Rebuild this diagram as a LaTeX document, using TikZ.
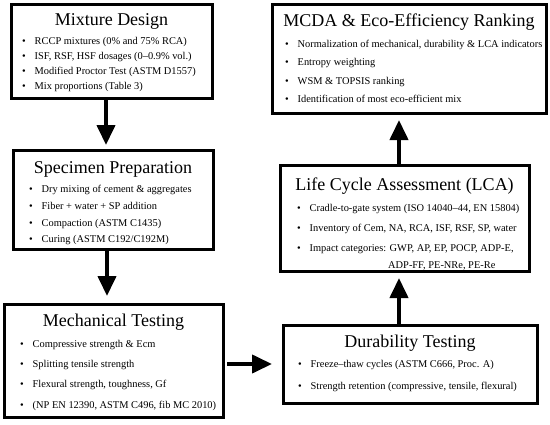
\documentclass[tikz,border=0pt]{standalone}
\usepackage{fontspec}
\setmainfont{Liberation Serif}
\usetikzlibrary{arrows.meta,calc}
\tikzset{
  box/.style={draw=black, line width=3pt, fill=white, inner sep=0pt, outer sep=0pt},
  ttl/.style={anchor=base, inner sep=0pt, font=\fontsize{18}{20}\selectfont},
  itm/.style={anchor=base west, inner sep=0pt, font=\fontsize{10.4}{12}\selectfont},
  arr/.style={line width=4pt, -{Triangle[length=20pt,width=18pt]}}
}
\newcommand{\bl}{\makebox[12.5pt][l]{\textbullet}}
\begin{document}
\begin{tikzpicture}[x=1pt,y=-1pt]
\useasboundingbox (0,0) rectangle (550,424);
% boxes
\node[box, minimum width=201pt, minimum height=94pt] (md) at (111.5,51) {};
\node[box, minimum width=200pt, minimum height=99pt] (sp) at (113,199.5) {};
\node[box, minimum width=219pt, minimum height=113pt] (mt) at (113.5,360.5) {};
\node[box, minimum width=254pt, minimum height=78pt] (dt) at (410,364) {};
\node[box, minimum width=249pt, minimum height=106pt] (lca) at (404.5,218) {};
\node[box, minimum width=274pt, minimum height=109pt] (mc) at (409,58.5) {};
% Mixture Design
\node[ttl] (mdt) at (111.5,25) {Mixture Design};
\node[itm] (md1) at (22,44) {\bl RCCP mixtures (0\% and 75\% RCA)};
\node[itm] (md2) at (22,59) {\bl ISF, RSF, HSF dosages (0–0.9\% vol.)};
\node[itm] (md3) at (22,74) {\bl Modified Proctor Test (ASTM D1557)};
\node[itm] (md4) at (22,89.5) {\bl Mix proportions (Table 3)};
% Specimen Preparation
\node[ttl] (spt) at (113,173) {Specimen Preparation};
\node[itm] (sp1) at (29,192) {\bl Dry mixing of cement \& aggregates};
\node[itm] (sp2) at (29,209) {\bl Fiber + water + SP addition};
\node[itm] (sp3) at (29,226) {\bl Compaction (ASTM C1435)};
\node[itm] (sp4) at (29,242) {\bl Curing (ASTM C192/C192M)};
% Mechanical Testing
\node[ttl] (mtt) at (113.5,326) {Mechanical Testing};
\node[itm] (mt1) at (20,347) {\bl Compressive strength \& Ecm};
\node[itm] (mt2) at (20,367) {\bl Splitting tensile strength};
\node[itm] (mt3) at (20,387) {\bl Flexural strength, toughness, Gf};
\node[itm] (mt4) at (20,408) {\bl (NP EN 12390, ASTM C496, fib MC 2010)};
% Durability Testing
\node[ttl] (dtt) at (410,347) {Durability Testing};
\node[itm] (dt1) at (298,367) {\bl Freeze–thaw cycles (ASTM C666, Proc. A)};
\node[itm] (dt2) at (298,389) {\bl Strength retention (compressive, tensile, flexural)};
% LCA
\node[ttl] (lcat) at (404.5,190) {Life Cycle Assessment (LCA)};
\node[itm] (lc1) at (297,211) {\bl Cradle-to-gate system (ISO 14040–44, EN 15804)};
\node[itm] (lc2) at (297,231) {\bl Inventory of Cem, NA, RCA, ISF, RSF, SP, water};
\node[itm] (lc3) at (297,251) {\bl Impact categories: GWP, AP, EP, POCP, ADP-E,};
\node[itm] (lc4) at (388,268) {ADP-FF, PE-NRe, PE-Re};
% MCDA
\node[ttl] (mct) at (409,26) {MCDA \& Eco-Efficiency Ranking};
\node[itm] (mc1) at (285,47) {\bl Normalization of mechanical, durability \& LCA indicators};
\node[itm] (mc2) at (285,65) {\bl Entropy weighting};
\node[itm] (mc3) at (285,84) {\bl WSM \& TOPSIS ranking};
\node[itm] (mc4) at (285,102) {\bl Identification of most eco-efficient mix};
% arrows
\draw[arr, shorten >=5pt] ($(md.south)+(-5.5,0)$) -- ($(sp.north)+(-7,0)$);
\draw[arr, shorten >=8pt] ($(sp.south)+(-6,0)$) -- ($(mt.north)+(-6.5,0)$);
\draw[arr, shorten <=4pt, shorten >=11pt] (mt.east |- 0,364) -- (dt.west |- 0,364);
\draw[arr, shorten >=7pt] ($(dt.north)+(-11,0)$) -- ($(lca.south)+(-5.5,0)$);
\draw[arr, shorten >=7pt] ($(lca.north)+(-5.5,0)$) -- ($(mc.south)+(-10,0)$);
\end{tikzpicture}
\end{document}
